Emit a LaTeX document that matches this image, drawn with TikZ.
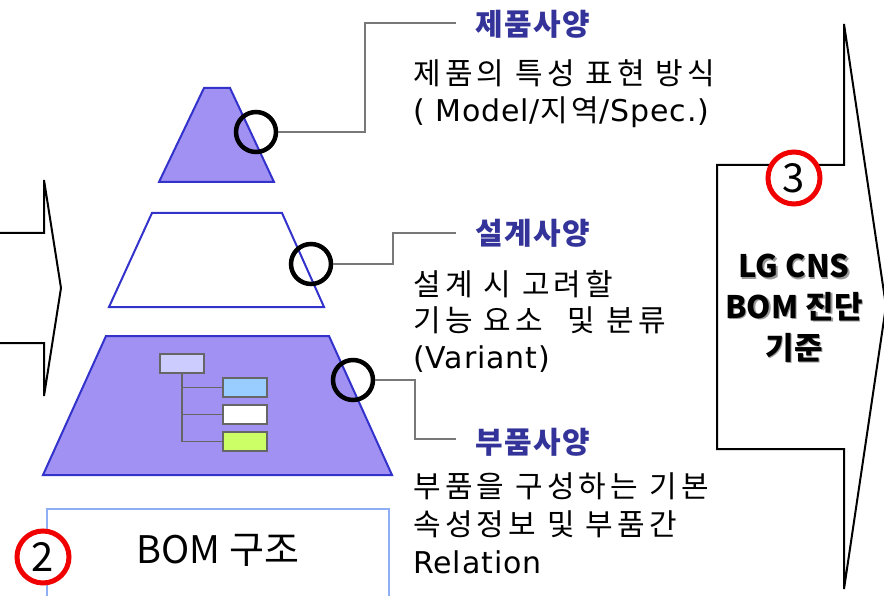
\documentclass[tikz,border=0pt]{standalone}
\usepackage{fontspec}
\setmainfont{Noto Sans CJK KR}
\newfontfamily\descfont{Noto Sans CJK KR}[LetterSpace=14]
\newfontfamily\titlefont{Noto Sans CJK KR}[LetterSpace=5]
\newfontfamily\latfont{DejaVu Sans}[LetterSpace=3]
\newcommand{\lat}[1]{{\latfont #1}}
\definecolor{trapfill}{RGB}{161,145,242}
\definecolor{trapline}{RGB}{51,51,204}
\definecolor{titleblue}{RGB}{51,51,153}
\definecolor{conngray}{RGB}{120,120,120}
\definecolor{treegray}{RGB}{102,102,102}
\definecolor{parentbox}{RGB}{204,204,255}
\definecolor{childblue}{RGB}{153,204,255}
\definecolor{childgreen}{RGB}{204,255,102}
\definecolor{bomblue}{RGB}{143,175,245}
\definecolor{ringred}{RGB}{240,0,0}
\tikzset{
  trap/.style={draw=trapline, line width=2pt, line join=miter},
  ring/.style={circle, draw=black, line width=4.5pt, minimum size=40pt, inner sep=0pt},
  redring/.style={circle, draw=ringred, fill=white, line width=5pt, minimum size=52pt, inner sep=0pt, font=\fontsize{40}{40}\selectfont},
  conn/.style={draw=conngray, line width=2pt},
  titletext/.style={anchor=base west, inner sep=0pt, text=titleblue, font=\titlefont\bfseries\fontsize{30}{30}\selectfont},
  desctext/.style={anchor=base west, inner sep=0pt, font=\descfont\fontsize{30}{30}\selectfont},
  bigarrow/.style={draw=black, line width=2pt, line join=miter},
  treebox/.style={draw=treegray, line width=1.5pt, minimum width=44pt, minimum height=19pt, inner sep=0pt},
  treeline/.style={draw=treegray, line width=1.5pt},
  critext/.style={anchor=base, inner sep=0pt, font=\bfseries\fontsize{31}{31}\selectfont},
}
\begin{document}
\begin{tikzpicture}[x=1pt,y=-1pt]
\useasboundingbox (0,0) rectangle (884,596);
\fill[white] (0,0) rectangle (884,596);

% left arrow
\draw[bigarrow] (-5,233) -- (44,233) -- (44,180) -- (61,288) -- (44,396) -- (44,343) -- (-5,343);

% right arrow
\draw[bigarrow] (844,24) -- (886,306) -- (844,589) -- (844,449) -- (717,449) -- (717,165) -- (844,165) -- cycle;
\foreach \t/\y in {LG CNS/278, BOM 진단/318, 기준/359}{
  \node[critext, text=black!40] at (795.5,\y+1.5) {\t};
}
\node[critext] (crit1) at (794,278) {LG CNS};
\node[critext] (crit2) at (794,318) {BOM 진단};
\node[critext] (crit3) at (794,359) {기준};
\node[redring] (r3) at (794,178) {3};

% trapezoids
\filldraw[trap, fill=trapfill] (204,88) -- (230,88) -- (274,182) -- (159,182) -- cycle;
\draw[trap, fill=white] (152,213) -- (282,213) -- (324,307) -- (109,307) -- cycle;
\filldraw[trap, fill=trapfill] (106,336) -- (329,336) -- (392,475) -- (43,475) -- cycle;

% tree inside bottom trapezoid
\node[treebox, fill=parentbox] (p) at (182,363.5) {};
\node[treebox, fill=childblue] (k1) at (245,387.5) {};
\node[treebox, fill=white] (k2) at (245,414.5) {};
\node[treebox, fill=childgreen] (k3) at (245,441.5) {};
\draw[treeline] (p.south) -- (p.south |- k3.west) -- (k3.west);
\draw[treeline] (p.south |- k1.west) -- (k1.west);
\draw[treeline] (p.south |- k2.west) -- (k2.west);

% rings
\node[ring] (c1) at (256,132) {};
\node[ring] (c2) at (311,264) {};
\node[ring] (c3) at (353,380) {};

% connectors
\coordinate (e1) at (456,23);
\coordinate (e2) at (456,233);
\coordinate (e3) at (456,439);
\draw[conn] (c1.east) -- (365,132) -- (365,23) -- (e1);
\draw[conn] (c2.east) -- (393,264) -- (393,233) -- (e2);
\draw[conn] (c3.east) -- (415,380) -- (415,439) -- (e3);

% texts
\node[titletext] (t1) at (475,36) {제품사양};
\node[desctext] (d11) at (413,85) {제품의 특성 표현 방식};
\node[desctext] (d12) at (413,122) {\lat{( Model/}지역\lat{/Spec.)}};

\node[titletext] (t2) at (475,245) {설계사양};
\node[desctext] (d21) at (413,295) {설계 시 고려할};
\node[desctext] (d22) at (413,331) {기능 요소\hspace{14pt} 및 분류};
\node[desctext] (d23) at (413,368) {\lat{(Variant)}};

\node[titletext] (t3) at (475,453) {부품사양};
\node[desctext] (d31) at (413,497) {부품을 구성하는 기본};
\node[desctext] (d32) at (413,535) {속성정보 및 부품간};
\node[desctext] (d33) at (413,573) {\lat{Relation}};

% BOM box
\draw[draw=bomblue, line width=2pt, fill=white] (47,509) rectangle (389,610);
\node[anchor=base, inner sep=0pt, font=\fontsize{38}{38}\selectfont] (bom) at (218,563) {BOM 구조};
\node[redring] (r2) at (43,557) {2};
\end{tikzpicture}
\end{document}
